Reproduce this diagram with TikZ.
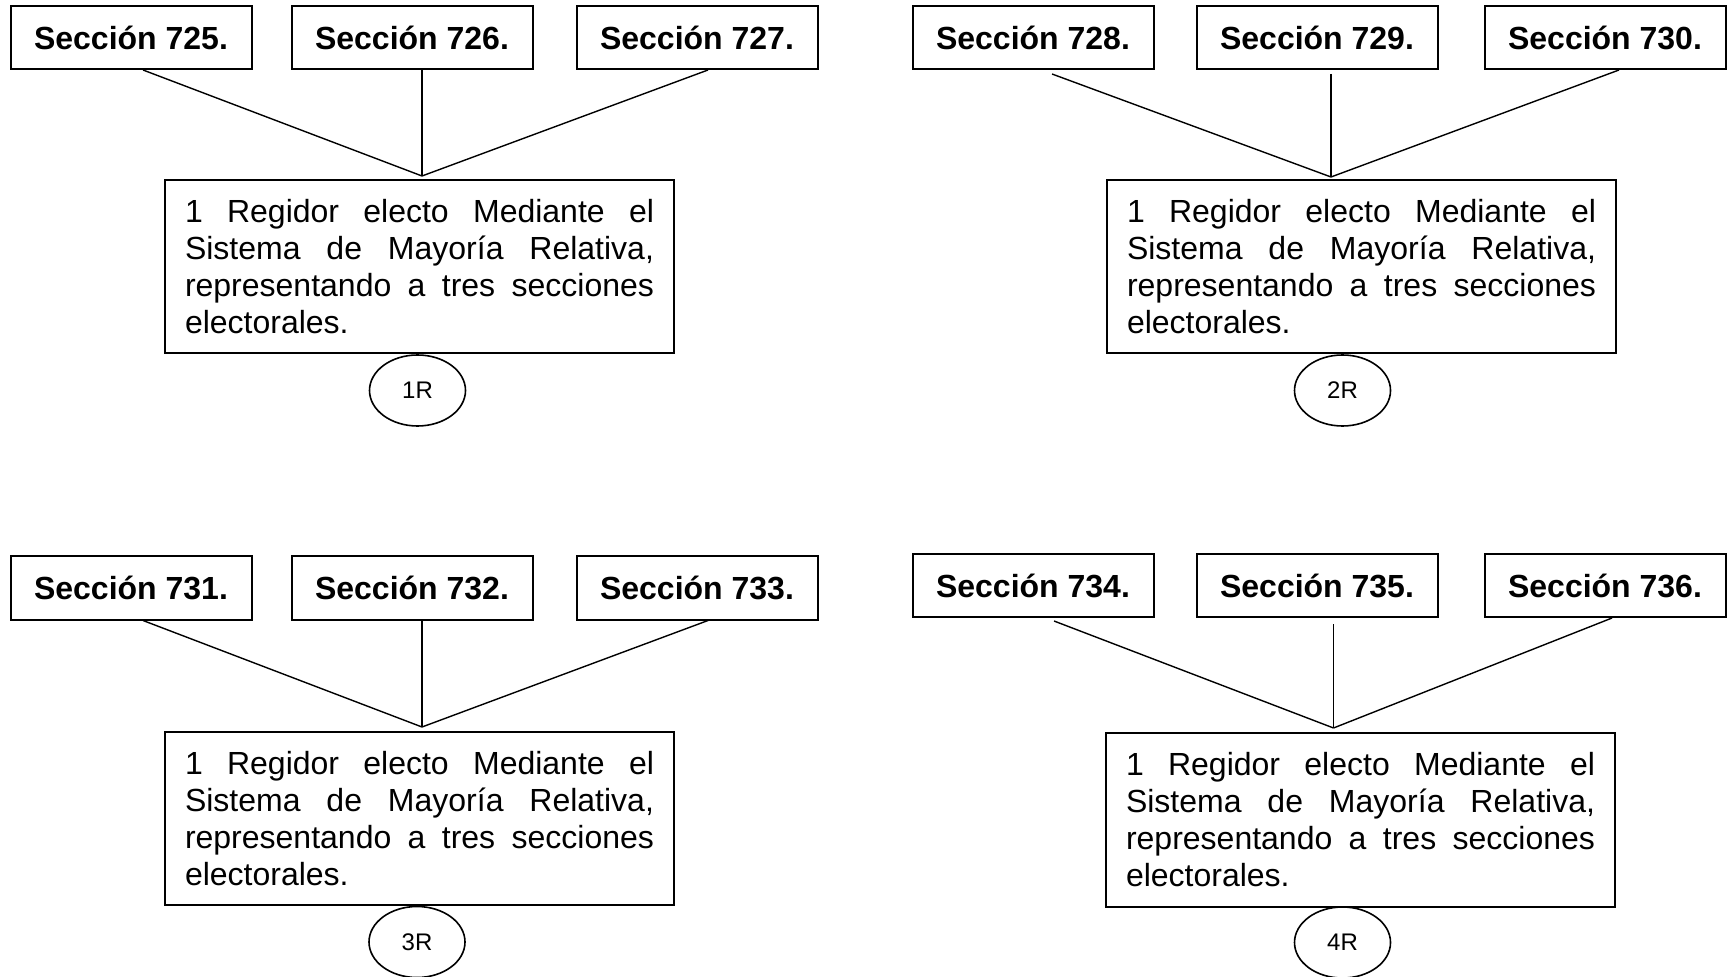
\documentclass[tikz,border=0pt]{standalone}
\usepackage{fontspec}
\setmainfont{Liberation Sans}
\usetikzlibrary{shapes.geometric}
% one justified line of the result text
\newcommand{\jline}[1]{\leavevmode\hbox to 234.5pt{#1}}
% body of each result box
\newcommand{\regtext}{%
\jline{1\hfill Regidor\hfill electo\hfill Mediante\hfill el}\\
\jline{Sistema\hfill de\hfill Mayoría\hfill Relativa,}\\
\jline{representando\hfill a\hfill tres\hfill secciones}\\
electorales.}
\begin{document}
\begin{tikzpicture}[x=0.5pt,y=-0.5pt,
  secbox/.style={draw,line width=1pt,minimum width=120.5pt,minimum height=31.5pt,
    inner sep=0pt,font=\bfseries\fontsize{16}{19}\selectfont},
  regbox/.style={draw,line width=1pt,minimum width=254.5pt,minimum height=86.4pt,
    inner sep=0pt,text width=234.5pt,align=left,font=\fontsize{16}{18.5}\selectfont},
  rtag/.style={draw,ellipse,line width=0.8pt,minimum width=48pt,minimum height=35.5pt,
    inner sep=0pt,font=\fontsize{12}{14}\selectfont},
  link/.style={line width=0.7pt}]
\useasboundingbox (0,0) rectangle (1727,977);

% ---- group 1 ----
\node[secbox] (s725) at (131,37.5) {Sección 725.};
\node[secbox] (s726) at (412,37.5) {Sección 726.};
\node[secbox] (s727) at (697,37.5) {Sección 727.};
\node[regbox] (r1) at (419.5,266.3) {\regtext};
\node[rtag] (e1) at (417.5,390.5) {1R};
\coordinate (a1) at (422,176);
\draw[link] (s725.south) ++(12,0) -- (a1);
\draw[link] (s726.south) ++(10,0) -- (a1);
\draw[link] (s727.south) ++(11,0) -- (a1);

% ---- group 2 ----
\node[secbox] (s728) at (1033,37.5) {Sección 728.};
\node[secbox] (s729) at (1317,37.5) {Sección 729.};
\node[secbox] (s730) at (1605,37.5) {Sección 730.};
\node[regbox] (r2) at (1361.5,266.3) {\regtext};
\node[rtag] (e2) at (1342.5,390.5) {2R};
\coordinate (a2) at (1331,177);
\draw[link] (s728.south) ++(19,4) -- (a2);
\draw[link] (s729.south) ++(14,4) -- (a2);
\draw[link] (s730.south) ++(14,0) -- (a2);

% ---- group 3 ----
\node[secbox] (s731) at (131,588) {Sección 731.};
\node[secbox] (s732) at (412,588) {Sección 732.};
\node[secbox] (s733) at (697,588) {Sección 733.};
\node[regbox,minimum height=86.5pt] (r3) at (419.5,818.5) {\regtext};
\node[rtag] (e3) at (417,942) {3R};
\coordinate (a3) at (422,727);
\draw[link] (s731.south) ++(12,0) -- (a3);
\draw[link] (s732.south) ++(10,0) -- (a3);
\draw[link] (s733.south) ++(11,0) -- (a3);

% ---- group 4 ----
\node[secbox] (s734) at (1033,585.5) {Sección 734.};
\node[secbox] (s735) at (1317,585.5) {Sección 735.};
\node[secbox] (s736) at (1605,585.5) {Sección 736.};
\node[regbox,minimum height=87pt] (r4) at (1360.5,820) {\regtext};
\node[rtag] (e4) at (1342.5,942.5) {4R};
\coordinate (a4) at (1333.5,728);
\draw[link] (s734.south) ++(21,3) -- (a4);
\draw[link] (s735.south) ++(16.5,6) -- (a4);
\draw[link] (s736.south) ++(7,0) -- (a4);
\end{tikzpicture}
\end{document}
